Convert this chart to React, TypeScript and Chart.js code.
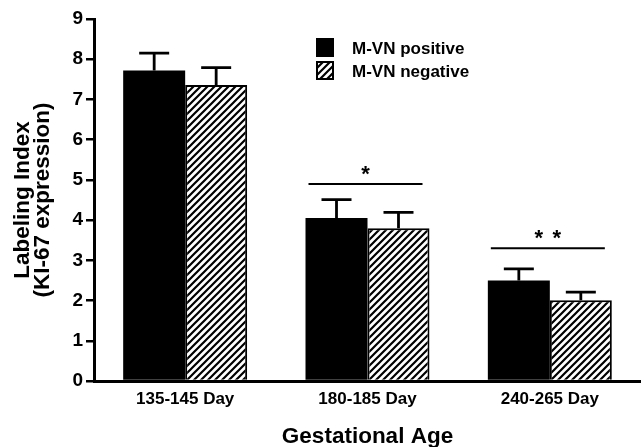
import { useEffect, useRef } from 'react';
import { Chart, registerables } from 'chart.js';

Chart.register(...registerables);

const categories = ['135-145 Day', '180-185 Day', '240-265 Day'];
const seriesLabels = ['M-VN positive', 'M-VN negative'];
const positiveValues = [7.72, 4.05, 2.5];
const negativeValues = [7.36, 3.8, 2.01];
const positiveErrors = [0.43, 0.46, 0.29];
const negativeErrors = [0.43, 0.39, 0.2];
const significanceLevels: (number | null)[] = [null, 4.9, 3.3];
const significanceStars = [0, 1, 2];
const yTitle = ['Labeling Index', '(KI-67 expression)'];
const xTitle = 'Gestational Age';
const yMin = 0;
const yMax = 9;
const yStep = 1;

const FONT = '"Liberation Sans", Arial, Helvetica, sans-serif';

function makeHatch(ctx: CanvasRenderingContext2D): CanvasPattern | string {
  const s = 7;
  const c = document.createElement('canvas');
  c.width = s;
  c.height = s;
  const g = c.getContext('2d');
  if (!g) return '#888';
  g.fillStyle = '#fff';
  g.fillRect(0, 0, s, s);
  g.strokeStyle = '#000';
  g.lineWidth = 2.2;
  g.beginPath();
  g.moveTo(0, s);
  g.lineTo(s, 0);
  g.moveTo(-s / 2, s / 2);
  g.lineTo(s / 2, -s / 2);
  g.moveTo(s / 2, s * 1.5);
  g.lineTo(s * 1.5, s / 2);
  g.stroke();
  return ctx.createPattern(c, 'repeat') || '#888';
}

export default function App() {
  const ref = useRef<HTMLCanvasElement | null>(null);

  useEffect(() => {
    const canvas = ref.current;
    if (!canvas) return;
    const ctx0 = canvas.getContext('2d');
    if (!ctx0) return;
    const hatch = makeHatch(ctx0);
    const errors = [positiveErrors, negativeErrors];
    const fills: (string | CanvasPattern)[] = ['#000', hatch];

    const errorBarPlugin = {
      id: 'errorBars',
      afterDatasetsDraw(chart: any) {
        const ctx = chart.ctx;
        const y = chart.scales.y;
        chart.data.datasets.forEach((ds: any, i: number) => {
          const meta = chart.getDatasetMeta(i);
          meta.data.forEach((bar: any, j: number) => {
            const v = ds.data[j] as number;
            const top = y.getPixelForValue(v + errors[i][j]);
            ctx.save();
            ctx.strokeStyle = '#000';
            ctx.lineWidth = 2.8;
            ctx.beginPath();
            ctx.moveTo(bar.x, bar.y);
            ctx.lineTo(bar.x, top);
            ctx.moveTo(bar.x - 15, top);
            ctx.lineTo(bar.x + 15, top);
            ctx.stroke();
            ctx.restore();
          });
        });
      },
    };

    const significancePlugin = {
      id: 'significance',
      afterDatasetsDraw(chart: any) {
        const ctx = chart.ctx;
        const x = chart.scales.x;
        const y = chart.scales.y;
        significanceLevels.forEach((lvl, i) => {
          if (lvl === null) return;
          const cx = x.getPixelForValue(i) - 2;
          const ly = y.getPixelForValue(lvl);
          ctx.save();
          ctx.strokeStyle = '#000';
          ctx.lineWidth = 2;
          ctx.beginPath();
          ctx.moveTo(cx - 57, ly);
          ctx.lineTo(cx + 57, ly);
          ctx.stroke();
          ctx.fillStyle = '#000';
          ctx.font = `bold 22px ${FONT}`;
          ctx.textAlign = 'center';
          ctx.textBaseline = 'alphabetic';
          const n = significanceStars[i];
          for (let k = 0; k < n; k++) {
            const sx = cx + (k - (n - 1) / 2) * 18;
            ctx.fillText('*', sx, ly - 3);
          }
          ctx.restore();
        });
      },
    };

    const legendPlugin = {
      id: 'customLegend',
      afterDraw(chart: any) {
        const ctx = chart.ctx;
        ctx.save();
        seriesLabels.forEach((label, i) => {
          const cy = 48 + i * 23;
          ctx.fillStyle = fills[i];
          ctx.fillRect(317, cy - 9, 16, 17);
          ctx.strokeStyle = '#000';
          ctx.lineWidth = 2;
          ctx.strokeRect(317, cy - 9, 16, 17);
          ctx.fillStyle = '#000';
          ctx.font = `bold 17px ${FONT}`;
          ctx.textAlign = 'left';
          ctx.textBaseline = 'middle';
          ctx.fillText(label, 352, cy + 1);
        });
        ctx.restore();
      },
    };

    const chart = new Chart(canvas, {
      type: 'bar',
      data: {
        labels: categories,
        datasets: [
          {
            label: seriesLabels[0],
            data: positiveValues,
            backgroundColor: '#000',
            borderColor: '#000',
            borderWidth: 0,
            barPercentage: 1,
            categoryPercentage: 0.68,
          },
          {
            label: seriesLabels[1],
            data: negativeValues,
            backgroundColor: hatch as any,
            borderColor: '#000',
            borderWidth: 2,
            barPercentage: 1,
            categoryPercentage: 0.68,
          },
        ],
      },
      options: {
        responsive: false,
        animation: false,
        layout: { padding: { top: 19, left: 0, right: 0, bottom: 0 } },
        plugins: {
          legend: { display: false },
          tooltip: { enabled: false },
        },
        scales: {
          x: {
            grid: { display: false, drawTicks: false },
            border: { display: true, color: '#000', width: 3 },
            ticks: {
              color: '#000',
              font: { family: FONT, size: 17, weight: 'bold' },
              padding: 8,
              maxRotation: 0,
            },
            title: {
              display: true,
              text: xTitle,
              color: '#000',
              font: { family: FONT, size: 22.5, weight: 'bold', lineHeight: 0.9 },
              padding: { top: 0, bottom: 0 },
            },
            afterFit: (s: any) => {
              s.height = 66;
            },
          },
          y: {
            min: yMin,
            max: yMax,
            ticks: {
              stepSize: yStep,
              color: '#000',
              font: { family: FONT, size: 19, weight: 'bold' },
              padding: 3,
            },
            grid: {
              drawOnChartArea: false,
              drawTicks: true,
              tickLength: 8,
              color: '#000',
              lineWidth: 2.5,
            },
            border: { display: true, color: '#000', width: 3 },
            title: {
              display: true,
              text: yTitle,
              color: '#000',
              font: { family: FONT, size: 22.5, weight: 'bold', lineHeight: 0.9 },
              padding: { top: 12.5, bottom: 0 },
            },
            afterFit: (s: any) => {
              s.width = 94;
            },
          },
        },
      } as any,
      plugins: [errorBarPlugin, significancePlugin, legendPlugin],
    });

    return () => {
      chart.destroy();
    };
  }, []);

  return (
    <div style={{ position: 'fixed', left: 0, top: 0, width: 641, height: 447, background: '#fff' }}>
      <canvas ref={ref} width={641} height={447} style={{ width: 641, height: 447, display: 'block' }} />
    </div>
  );
}
